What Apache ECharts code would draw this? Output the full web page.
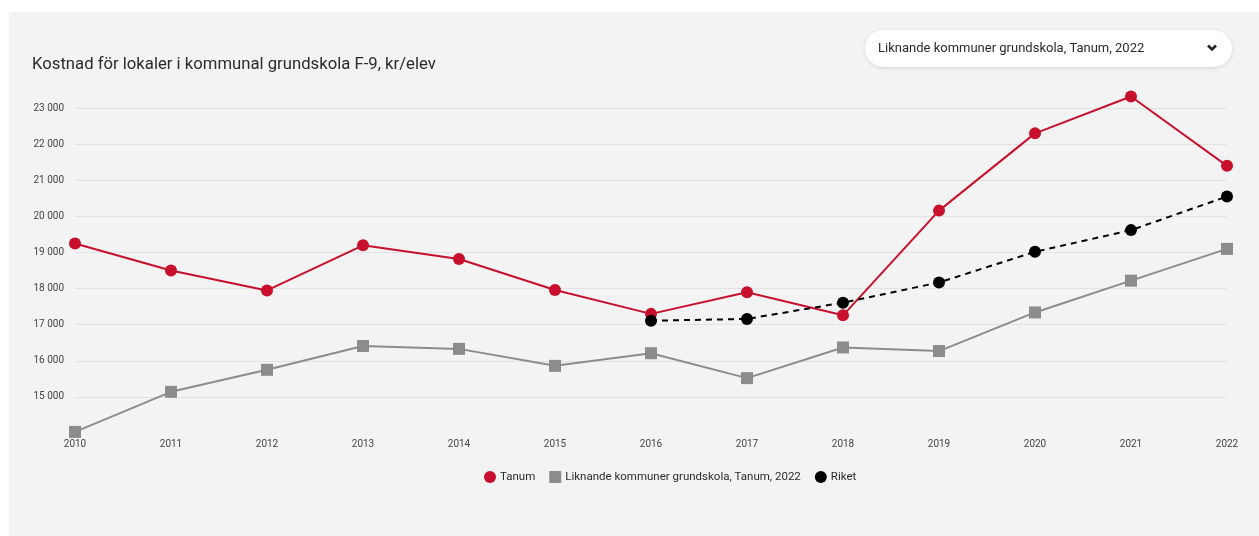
<!DOCTYPE html>
<html>
<head>
<meta charset="utf-8">
<script src="https://cdn.jsdelivr.net/npm/echarts@6/dist/echarts.min.js"></script>
<style>
  html, body { margin: 0; padding: 0; background: #ffffff; }
  #panel { position: absolute; left: 9px; top: 12px; width: 1250px; height: 524px; background: #f3f3f3; }
  #chart { position: absolute; left: 0; top: 0; width: 1259px; height: 536px; }
</style>
</head>
<body>
<div id="panel"></div>
<div id="chart"></div>
<script>
// Kostnad för lokaler i kommunal grundskola F-9, kr/elev
const years = ['2010','2011','2012','2013','2014','2015','2016','2017','2018','2019','2020','2021','2022'];
const tanum = [19250, 18500, 17950, 19200, 18820, 17960, 17300, 17900, 17260, 20160, 22300, 23320, 21400];
const liknande = [14030, 15140, 15750, 16410, 16330, 15860, 16210, 15520, 16370, 16270, 17340, 18220, 19100];
const riket = [null, null, null, null, null, null, 17110, 17160, 17610, 18170, 19020, 19620, 20550];

const seriesNames = ['Tanum', 'Liknande kommuner grundskola, Tanum, 2022', 'Riket'];
const titleText = 'Kostnad för lokaler i kommunal grundskola F-9, kr/elev';
const selectText = 'Liknande kommuner grundskola, Tanum, 2022';

const RED = '#c8102e';
const GRAY = '#8c8c8c';
const BLACK = '#000000';
const FONT = 'Roboto, "Noto Sans", sans-serif';

const chart = echarts.init(document.getElementById('chart'), null, { renderer: 'canvas' });

chart.setOption({
  animation: false,
  textStyle: { fontFamily: FONT },
  title: {
    text: titleText,
    left: 27,
    top: 51,
    textStyle: { fontFamily: FONT, fontSize: 16.7, fontWeight: 'normal', color: '#2b2b2b' }
  },
  graphic: [
    {
      type: 'rect',
      shape: { x: 865, y: 30, width: 367, height: 37, r: 18.5 },
      style: { fill: '#ffffff', shadowBlur: 4, shadowColor: 'rgba(0,0,0,0.12)', shadowOffsetY: 1 },
      z: 10
    },
    {
      type: 'text',
      x: 878, y: 48.5,
      style: { text: selectText, fontFamily: FONT, fontSize: 13, fill: '#2b2b2b', verticalAlign: 'middle' },
      z: 11
    },
    {
      type: 'polyline',
      shape: { points: [[1208, 45.5], [1212, 49.5], [1216, 45.5]] },
      style: { stroke: '#222', lineWidth: 2.5, fill: null },
      z: 11
    }
  ],
  legend: {
    top: 466,
    left: 479,
    itemWidth: 12,
    itemHeight: 12,
    itemGap: 14,
    textStyle: { fontFamily: FONT, fontSize: 11.5, color: '#2b2b2b', padding: [0, 0, 0, -1] },
    data: [
      { name: seriesNames[0], icon: 'circle' },
      { name: seriesNames[1], icon: 'rect' },
      { name: seriesNames[2], icon: 'circle' }
    ]
  },
  grid: { left: 75, right: 32, top: 72, bottom: 103, containLabel: false },
  xAxis: {
    type: 'category',
    data: years,
    boundaryGap: false,
    axisLine: { show: false },
    axisTick: { show: false },
    axisLabel: { color: '#444', fontSize: 10, fontFamily: FONT, margin: 6 }
  },
  yAxis: {
    type: 'value',
    min: 14000,
    max: 24000,
    interval: 1000,
    axisLine: { show: false },
    axisTick: { show: false },
    axisLabel: {
      color: '#444', fontSize: 10, fontFamily: FONT, margin: 11,
      showMinLabel: false, showMaxLabel: false,
      formatter: v => String(v).replace(/\B(?=(\d{3})+(?!\d))/g, ' ')
    },
    splitLine: { show: true, showMinLine: false, showMaxLine: false, lineStyle: { color: '#e2e2e2', width: 1 } }
  },
  series: [
    {
      name: seriesNames[0], type: 'line', data: tanum,
      symbol: 'circle', symbolSize: 12, clip: false,
      lineStyle: { color: RED, width: 2 },
      itemStyle: { color: RED }
    },
    {
      name: seriesNames[1], type: 'line', data: liknande,
      symbol: 'rect', symbolSize: 12, clip: false,
      lineStyle: { color: GRAY, width: 2 },
      itemStyle: { color: GRAY }
    },
    {
      name: seriesNames[2], type: 'line', data: riket,
      symbol: 'circle', symbolSize: 12, clip: false,
      lineStyle: { color: BLACK, width: 2, type: [6, 5] },
      itemStyle: { color: BLACK }
    }
  ]
});
</script>
</body>
</html>
